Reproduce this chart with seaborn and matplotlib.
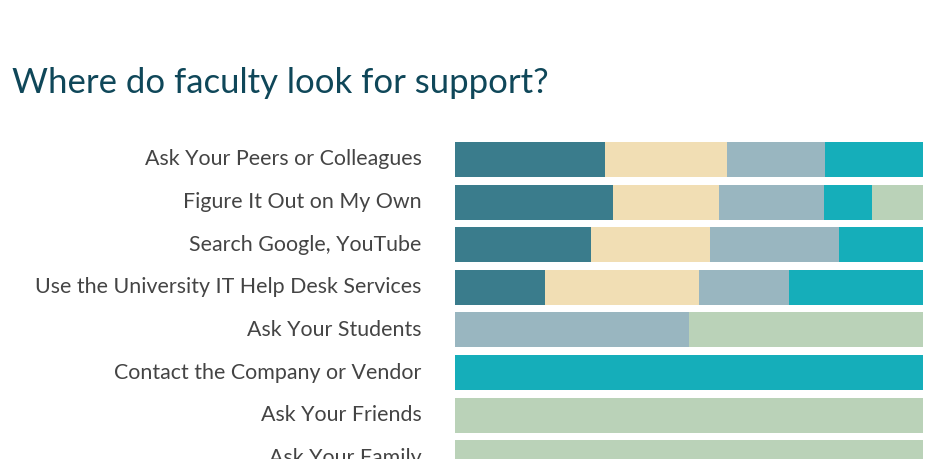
import seaborn as sns
import matplotlib.pyplot as plt
import matplotlib.transforms as mtransforms
import pandas as pd

# support sources, top to bottom
sources = ['Ask Your Peers or Colleagues', 'Figure It Out on My Own',
           'Search Google, YouTube', 'Use the University IT Help Desk Services',
           'Ask Your Students', 'Contact the Company or Vendor',
           'Ask Your Friends', 'Ask Your Family']

# share of each answer group (percent of row)
seg1 = [32.0, 33.7, 29.0, 19.2, 0, 0, 0, 0]
seg2 = [26.2, 22.7, 25.5, 32.9, 0, 0, 0, 0]
seg3 = [20.8, 22.5, 27.5, 19.2, 50, 0, 0, 0]
seg4 = [21.0, 10.1, 18.0, 28.7, 0, 100, 0, 0]
seg5 = [0, 11.0, 0, 0, 50, 0, 100, 100]

colors = ['#3A7C8C', '#F1DEB4', '#99B6C0', '#15AEBA', '#BAD2B8']

df = pd.DataFrame({'source': sources, 's1': seg1, 's2': seg2, 's3': seg3,
                   's4': seg4, 's5': seg5})
segs = ['s1', 's2', 's3', 's4', 's5']
cum = df[segs].cumsum(axis=1)

sns.set_style('white')
plt.rcParams['font.family'] = ['Lato', 'DejaVu Sans']

fig = plt.figure(figsize=(9.27, 4.6), dpi=100)
ax = fig.add_axes([0.4908, -0.0435, 0.5049, 0.7409])

# stacked bars: draw the longest cumulative first, then overlay shorter ones
for s, c in reversed(list(zip(segs, colors))):
    sns.barplot(x=cum[s], y=df['source'], color=c, orient='h', width=0.82,
                saturation=1, errorbar=None, linewidth=0, ax=ax)

ax.set_xlim(0, 100)
ax.set_ylim(7.5, -0.5)
ax.set_xlabel('')
ax.set_ylabel('')
ax.set_xticks([])
sns.despine(ax=ax, left=True, bottom=True)
ax.tick_params(axis='y', length=0, pad=24, labelsize=15.4, labelcolor='#444444')
# labels sit a touch above the bar centres
shift = mtransforms.ScaledTranslation(0, 0.03, fig.dpi_scale_trans)
for lab in ax.get_yticklabels():
    lab.set_va('center_baseline')
    lab.set_transform(lab.get_transform() + shift)

fig.text(0.013, 0.797, 'Where do faculty look for support?', fontsize=25,
         color='#0F4759', ha='left', va='baseline')

fig.savefig('out.png', dpi=100)
